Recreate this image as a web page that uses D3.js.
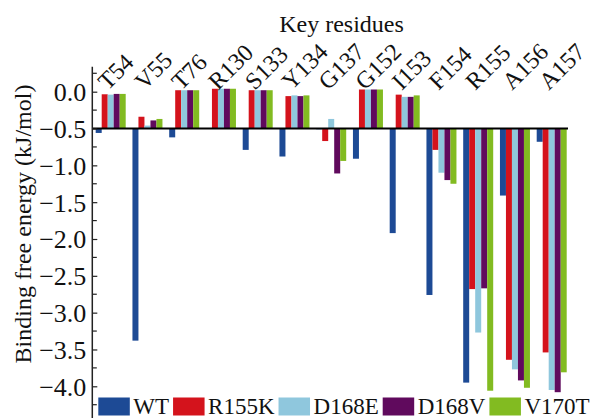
<!DOCTYPE html>
<html>
<head>
<meta charset="utf-8">
<script src="https://cdn.jsdelivr.net/npm/d3@7/dist/d3.min.js"></script>
<style>
  html, body { margin: 0; padding: 0; background: #fff; }
  svg { display: block; }
  text { font-family: "Liberation Serif", "Times New Roman", serif; fill: #111; }
</style>
</head>
<body>
<svg id="chart" width="592" height="418"></svg>
<script>
// Key residues and per-variant binding free energy (kJ/mol)
const categories = ["T54", "V55", "T76", "R130", "S133", "Y134", "G137", "G152", "I153", "F154", "R155", "A156", "A157"];
const seriesNames = ["WT", "R155K", "D168E", "D168V", "V170T"];
const WT    = [-0.56, -3.38, -0.62, -0.50, -0.79, -0.88, -0.51, -0.91, -1.92, -2.76, -3.95, -1.41, -0.68];
const R155K = [-0.035, -0.34, 0.02, 0.04, 0.02, -0.06, -0.67, 0.03, -0.04, -0.79, -2.68, -3.64, -3.54];
const D168E = [-0.04, -0.46, 0.02, 0.04, 0.02, -0.05, -0.37, 0.03, -0.07, -1.10, -3.27, -3.77, -4.05];
const D168V = [-0.03, -0.39, 0.02, 0.04, 0.02, -0.06, -1.11, 0.03, -0.07, -1.20, -2.67, -3.92, -4.08];
const V170T = [-0.03, -0.37, 0.02, 0.04, 0.02, -0.05, -0.94, 0.03, -0.05, -1.25, -4.06, -4.02, -3.81];
const majorTicks = [0.0, -0.5, -1.0, -1.5, -2.0, -2.5, -3.0, -3.5, -4.0];
const minorTicks = [0.25, -0.25, -0.75, -1.25, -1.75, -2.25, -2.75, -3.25, -3.75, -4.25];
const colors = ["#1d4a95", "#d4131c", "#8fc7dd", "#600a5d", "#82bb21"];
const baselineValue = -0.5;

const seriesValues = [WT, R155K, D168E, D168V, V170T];
const table = categories.map((c, i) => ({
  category: c,
  values: seriesNames.map((s, j) => ({ series: s, value: seriesValues[j][i] }))
}));

const svg = d3.select("#chart");
const serif = '"Liberation Serif", "Times New Roman", serif';

const y = d3.scaleLinear().domain([0, -4]).range([91.7, 386.3]);
const x = d3.scaleBand().domain(categories).range([95.7, 566.7]).paddingInner(0.1837).paddingOuter(0);
const xs = d3.scaleBand().domain(seriesNames).range([0, x.bandwidth()]);
const color = d3.scaleOrdinal().domain(seriesNames).range(colors);

const axisX = 92.3;

// Bars hang from the -0.5 reference line
const groups = svg.append("g").selectAll("g")
  .data(table).join("g")
  .attr("transform", d => `translate(${x(d.category)},0)`);

groups.selectAll("rect")
  .data(d => d.values).join("rect")
  .attr("x", d => xs(d.series))
  .attr("width", xs.bandwidth())
  .attr("y", d => Math.min(y(d.value), y(baselineValue)))
  .attr("height", d => Math.abs(y(d.value) - y(baselineValue)))
  .attr("fill", d => color(d.series));

// Reference line at -0.5
svg.append("line")
  .attr("x1", axisX).attr("x2", 568)
  .attr("y1", y(baselineValue)).attr("y2", y(baselineValue))
  .attr("stroke", "#000").attr("stroke-width", 2);

// Y axis with inward ticks
const yAxis = d3.axisLeft(y)
  .tickValues(majorTicks)
  .tickSize(-5)
  .tickPadding(6)
  .tickFormat(d => d3.format(".1f")(d).replace("-", "\u2212"));

const gy = svg.append("g").attr("transform", `translate(${axisX},0)`).call(yAxis);
gy.attr("font-family", null).attr("font-size", null);
gy.select(".domain").remove();
gy.selectAll(".tick line").attr("stroke", "#222").attr("stroke-width", 1.2);
gy.selectAll(".tick text")
  .style("font-family", serif)
  .style("font-size", "26px")
  .attr("dy", "0.34em")
  .attr("fill", "#111");

svg.append("g").selectAll("line")
  .data(minorTicks).join("line")
  .attr("x1", axisX).attr("x2", axisX + 4.5)
  .attr("y1", d => y(d)).attr("y2", d => y(d))
  .attr("stroke", "#222").attr("stroke-width", 1.2);

svg.append("line")
  .attr("x1", axisX).attr("x2", axisX)
  .attr("y1", y(0.34)).attr("y2", 418)
  .attr("stroke", "#222").attr("stroke-width", 1.5);

// Y axis title
svg.append("text")
  .attr("transform", `translate(31,${224}) rotate(-90)`)
  .attr("text-anchor", "middle")
  .style("font-size", "24px")
  .text("Binding free energy (kJ/mol)");

// Top title
svg.append("text")
  .attr("x", 341.5).attr("y", 31.7)
  .attr("text-anchor", "middle")
  .style("font-size", "24px")
  .text("Key residues");

// Rotated residue labels
svg.append("g").selectAll("text")
  .data(categories).join("text")
  .attr("transform", c => `translate(${x(c) + 12},91) rotate(-45)`)
  .attr("text-anchor", "start")
  .style("font-size", "24px")
  .text(c => c);

// Legend along the bottom edge
const legend = svg.append("g");
let lx = 98.3;
seriesNames.forEach(s => {
  legend.append("rect")
    .attr("x", lx).attr("y", 397.5)
    .attr("width", 31.5).attr("height", 18)
    .attr("fill", color(s));
  const t = legend.append("text")
    .attr("x", lx + 35).attr("y", 413.5)
    .style("font-size", "23px")
    .text(s);
  lx = lx + 35 + t.node().getComputedTextLength() + 4;
});
</script>
</body>
</html>
